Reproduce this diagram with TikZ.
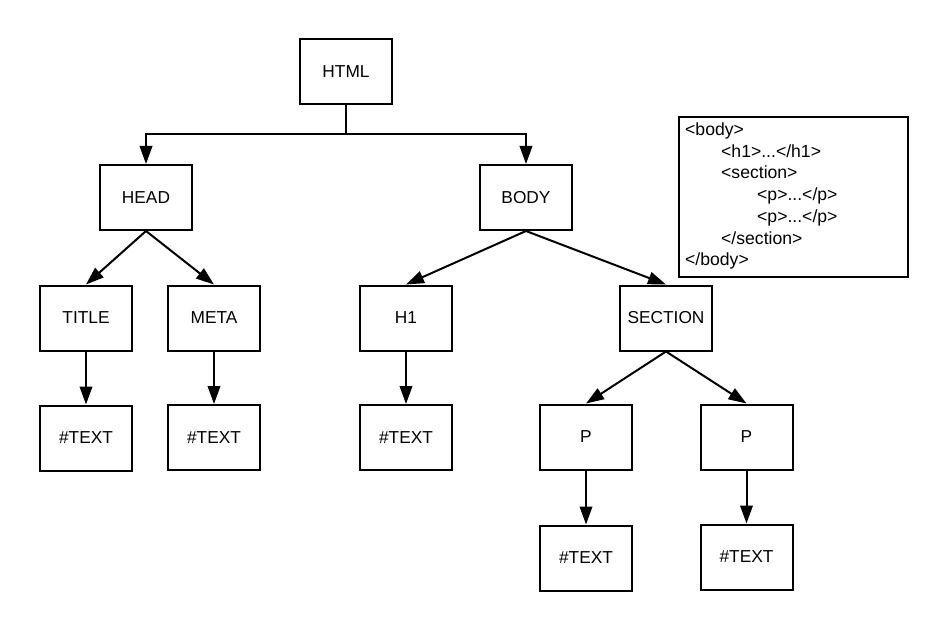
\documentclass[tikz,border=0pt]{standalone}
\usepackage{fontspec}
\setmainfont{Liberation Sans}
\usetikzlibrary{arrows.meta}
\begin{document}
\begin{tikzpicture}[x=1pt,y=-1pt,
  treebox/.style={draw, line width=2pt, minimum width=92pt, minimum height=65pt,
    inner sep=0pt, font=\fontsize{17.3}{20}\selectfont},
  arr/.style={line width=2pt, -{Triangle[length=18pt,width=12.5pt]}},
  link/.style={line width=2pt},
  codebox/.style={draw, line width=2.5pt, minimum width=229pt, minimum height=160pt, inner sep=0pt},
  codeline/.style={anchor=west, inner sep=0pt, text height=12.5pt, text depth=3.5pt,
    font=\fontsize{17.6}{20}\selectfont}]
  \useasboundingbox (0,0) rectangle (948,631);

  % element tree
  \node[treebox] (html) at (346,72) {HTML};
  \node[treebox] (head) at (146,197.5) {HEAD};
  \node[treebox] (body) at (526,197.5) {BODY};
  \node[treebox] (title) at (86,318) {TITLE};
  \node[treebox] (meta) at (214,318) {META};
  \node[treebox] (h1) at (406,318) {H1};
  \node[treebox] (section) at (666,318) {SECTION};
  \node[treebox] (t1) at (86,438) {\#TEXT};
  \node[treebox] (t2) at (214,437.5) {\#TEXT};
  \node[treebox] (t3) at (406,437.5) {\#TEXT};
  \node[treebox] (p1) at (586,437) {P};
  \node[treebox] (p2) at (746.5,437) {P};
  \node[treebox] (t4) at (586,558) {\#TEXT};
  \node[treebox] (t5) at (746.5,557) {\#TEXT};

  % connectors
  \coordinate (split) at (346,134);
  \draw[link] (html.south) -- (split);
  \draw[arr] (split) -| (head.north);
  \draw[arr] (split) -| (body.north);
  \draw[arr] (head.south) -- (title.north);
  \draw[arr] (head.south) -- (meta.north);
  \draw[arr] (body.south) -- (h1.north);
  \draw[arr] (body.south) -- (section.north);
  \draw[arr] (title.south) -- (t1.north);
  \draw[arr] (meta.south) -- (t2.north);
  \draw[arr] (h1.south) -- (t3.north);
  \draw[arr] (section.south) -- (p1.north);
  \draw[arr] (section.south) -- (p2.north);
  \draw[arr] (p1.south) -- (t4.north);
  \draw[arr] (p2.south) -- (t5.north);

  % markup listing
  \node[codebox] (code) at (793.5,197) {};
  \node[codeline] (c1) at (685,131) {<body>};
  \node[codeline] (c2) at (721,152.7) {<h1>...</h1>};
  \node[codeline] (c3) at (721,174.4) {<section>};
  \node[codeline] (c4) at (757,196.1) {<p>...</p>};
  \node[codeline] (c5) at (757,217.8) {<p>...</p>};
  \node[codeline] (c6) at (721,239.5) {</section>};
  \node[codeline] (c7) at (685,261.2) {</body>};
\end{tikzpicture}
\end{document}
